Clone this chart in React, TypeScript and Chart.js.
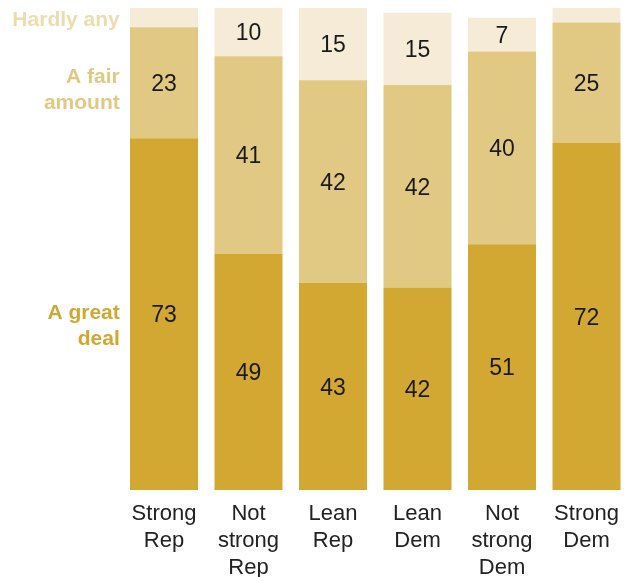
import React, { useEffect, useRef } from "react";
import { Chart, registerables } from "chart.js";

Chart.register(...registerables);

const categories: string[][] = [
  ["Strong", "Rep"],
  ["Not", "strong", "Rep"],
  ["Lean", "Rep"],
  ["Lean", "Dem"],
  ["Not", "strong", "Dem"],
  ["Strong", "Dem"],
];
const greatDeal = [73, 49, 43, 42, 51, 72];
const fairAmount = [23, 41, 42, 42, 40, 25];
const hardlyAny = [4, 10, 15, 15, 7, 3];
const seriesNames = ["A great deal", "A fair amount", "Hardly any"];
const seriesLabelLines = [["A great", "deal"], ["A fair", "amount"], ["Hardly any"]];
const seriesLabelValues = [34, 83, 97.5];
const barColors = ["#D2A732", "#E2C983", "#F5EBD6"];
const labelColors = ["#D2A732", "#E2C983", "#EDDCAE"];
const minLabelValue = 5;

const labelPlugin = {
  id: "labelPlugin",
  afterDatasetsDraw(chart: any) {
    const ctx = chart.ctx;
    ctx.save();
    ctx.font = "23px 'Liberation Sans', Arial, sans-serif";
    ctx.fillStyle = "#1a1a1a";
    ctx.textAlign = "center";
    ctx.textBaseline = "middle";
    chart.data.datasets.forEach((ds: any, di: number) => {
      const meta = chart.getDatasetMeta(di);
      meta.data.forEach((bar: any, i: number) => {
        const v = ds.data[i];
        if (v < minLabelValue) return;
        const p = bar.getProps(["x", "y", "base"], true);
        ctx.fillText(String(v), p.x, (p.y + p.base) / 2 + 2);
      });
    });
    ctx.font = "bold 21px 'Liberation Sans', Arial, sans-serif";
    ctx.textAlign = "right";
    const yScale = chart.scales.y;
    const lh = 26;
    seriesLabelLines.forEach((lines, si) => {
      const cy = yScale.getPixelForValue(seriesLabelValues[si]);
      ctx.fillStyle = labelColors[si];
      lines.forEach((line, li) => {
        ctx.fillText(line, chart.chartArea.left - 2, cy + (li - (lines.length - 1) / 2) * lh);
      });
    });
    ctx.restore();
  },
};

export default function App() {
  const ref = useRef<HTMLCanvasElement | null>(null);
  useEffect(() => {
    if (!ref.current) return;
    const series = [greatDeal, fairAmount, hardlyAny];
    const chart = new Chart(ref.current, {
      type: "bar",
      data: {
        labels: categories,
        datasets: series.map((d, i) => ({
          label: seriesNames[i],
          data: d,
          backgroundColor: barColors[i],
          borderWidth: 0,
          categoryPercentage: 1,
          barPercentage: 0.805,
        })),
      },
      options: {
        animation: false,
        responsive: true,
        maintainAspectRatio: false,
        layout: { padding: { top: 8, left: 121.75, right: 1.25, bottom: 0 } },
        plugins: { legend: { display: false }, tooltip: { enabled: false } },
        scales: {
          x: {
            stacked: true,
            grid: { display: false },
            border: { display: false },
            afterFit: (scale: any) => {
              scale.height = 87;
            },
            ticks: {
              color: "#222",
              padding: 2,
              maxRotation: 0,
              autoSkip: false,
              font: { family: "'Liberation Sans', Arial, sans-serif", size: 22, lineHeight: 27 / 22 },
            },
          },
          y: { stacked: true, display: false, min: 0, max: 100 },
        },
      },
      plugins: [labelPlugin],
    });
    return () => chart.destroy();
  }, []);
  return (
    <div style={{ position: "absolute", left: 0, top: 0, width: 630, height: 577, background: "#fff" }}>
      <canvas ref={ref} />
    </div>
  );
}
